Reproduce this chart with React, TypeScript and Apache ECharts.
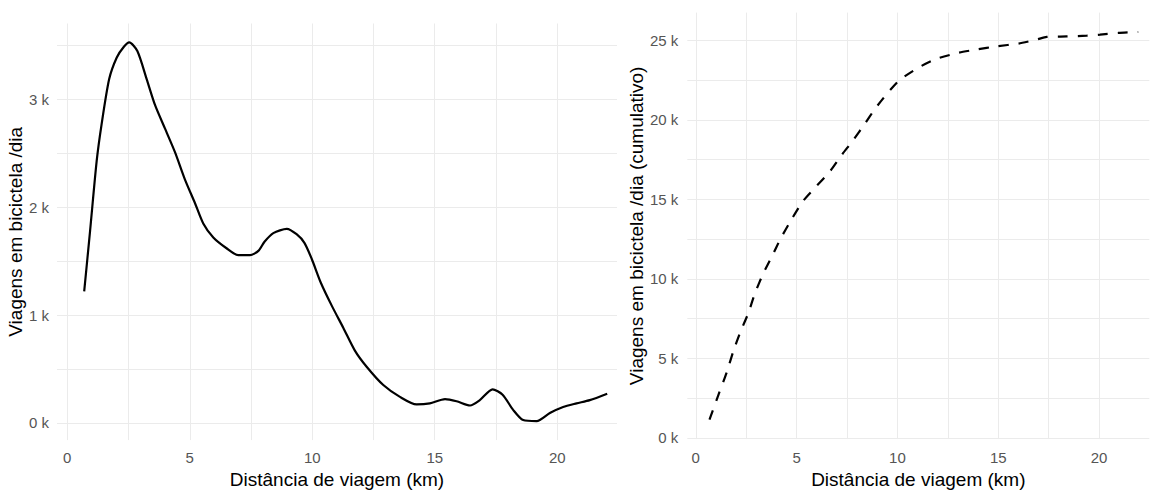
import React, { useEffect, useRef } from "react";
import * as echarts from "echarts";

// Left panel: trips per day by distance (km)
const densityX = [0.69, 0.93, 1.2, 1.4, 1.71, 2.02, 2.31, 2.53, 2.86, 3.24, 3.58, 3.99, 4.4, 4.8, 5.21, 5.55, 5.96, 6.5, 6.98, 7.46, 7.8, 8.05, 8.41, 8.96, 9.36, 9.68, 9.98, 10.35, 10.8, 11.27, 11.74, 12.22, 12.9, 13.58, 14.26, 14.8, 15.42, 15.89, 16.44, 16.84, 17.36, 17.77, 18.2, 18.61, 19.16, 19.7, 20.24, 20.79, 21.33, 22.04];
const densityY = [1220, 1780, 2430, 2770, 3190, 3390, 3490, 3530, 3450, 3190, 2950, 2730, 2510, 2260, 2040, 1850, 1720, 1620, 1556, 1556, 1595, 1680, 1760, 1800, 1750, 1670, 1520, 1300, 1085, 880, 670, 520, 350, 240, 170, 180, 220, 200, 160, 210, 310, 260, 120, 25, 15, 90, 146, 180, 210, 270];

// Right panel: cumulative trips per day
const cumulX = [0.68, 1.12, 1.54, 1.87, 2.2, 2.61, 2.94, 3.35, 3.77, 4.18, 4.76, 5.33, 5.99, 6.66, 7.24, 7.81, 8.39, 8.89, 9.47, 10.1, 11.04, 11.95, 13.02, 13.93, 14.92, 16.0, 16.9, 17.4, 18.39, 19.39, 20.05, 20.95, 21.94];
const cumulY = [1140, 2690, 4140, 5480, 6620, 7860, 9110, 10350, 11390, 12470, 13760, 14910, 15840, 16770, 17800, 18730, 19770, 20700, 21630, 22500, 23290, 23850, 24220, 24430, 24630, 24800, 25050, 25220, 25250, 25300, 25360, 25470, 25530];

const xGridValues = [0, 2.5, 5, 7.5, 10, 12.5, 15, 17.5, 20];
const xLabelValues = [0, 5, 10, 15, 20];
const leftYGridValues = [0, 500, 1000, 1500, 2000, 2500, 3000, 3500];
const leftYLabelValues = [0, 1000, 2000, 3000];
const rightYGridValues = [0, 2500, 5000, 7500, 10000, 12500, 15000, 17500, 20000, 22500, 25000];
const rightYLabelValues = [0, 5000, 10000, 15000, 20000, 25000];

const xTitle = "Distância de viagem (km)";
const leftYTitle = "Viagens em bicictela /dia";
const rightYTitle = "Viagens em bicictela /dia (cumulativo)";

const FONT = "Liberation Sans, Arial, sans-serif";
const gridColor = "#ebebeb";
const tickColor = "#555555";

function zip(xs: number[], ys: number[]) {
  return xs.map((x, i) => [x, ys[i]]);
}

export default function App() {
  const ref = useRef<HTMLDivElement>(null);
  useEffect(() => {
    if (!ref.current) return;
    const chart = echarts.init(ref.current, null, { renderer: "svg" });
    const xAxisBase = (gridIndex: number, min: number, max: number, labelMargin: number, nameGap: number) => ({
      type: "value",
      gridIndex,
      min,
      max,
      name: xTitle,
      nameLocation: "middle",
      nameGap,
      nameTextStyle: { fontSize: 19, color: "#000", fontFamily: FONT },
      axisLine: { show: false },
      axisTick: { show: false, customValues: xGridValues },
      axisLabel: {
        customValues: xLabelValues,
        fontSize: 15,
        color: tickColor,
        fontFamily: FONT,
        margin: labelMargin,
      },
      splitLine: { show: true, lineStyle: { color: gridColor, width: 1 } },
    });
    const yAxisBase = (
      gridIndex: number,
      min: number,
      max: number,
      gridVals: number[],
      labelVals: number[],
      name: string,
      nameGap: number,
      labelMargin: number
    ) => ({
      type: "value",
      gridIndex,
      min,
      max,
      name,
      nameLocation: "middle",
      nameGap,
      nameRotate: 90,
      nameTextStyle: { fontSize: 19, color: "#000", fontFamily: FONT },
      axisLine: { show: false },
      axisTick: { show: false, customValues: gridVals },
      axisLabel: {
        customValues: labelVals,
        fontSize: 15,
        color: tickColor,
        fontFamily: FONT,
        margin: labelMargin,
        formatter: (v: number) => v / 1000 + " k",
      },
      splitLine: { show: true, lineStyle: { color: gridColor, width: 1 } },
    });
    chart.setOption({
      animation: false,
      backgroundColor: "#ffffff",
      grid: [
        { left: 57, top: 23.5, width: 560, height: 424, containLabel: false },
        { left: 687.3, top: 12.6, width: 462, height: 432, containLabel: false },
      ],
      xAxis: [
        xAxisBase(0, -0.42, 22.44, 10, 27),
        xAxisBase(1, -0.42, 22.49, 11, 29),
      ],
      yAxis: [
        yAxisBase(0, -161, 3706, leftYGridValues, leftYLabelValues, leftYTitle, 29, 8),
        yAxisBase(1, -80, 26750, rightYGridValues, rightYLabelValues, rightYTitle, 40, 9),
      ],
      series: [
        {
          type: "line",
          xAxisIndex: 0,
          yAxisIndex: 0,
          data: zip(densityX, densityY),
          showSymbol: false,
          smooth: 0.25,
          lineStyle: { color: "#000", width: 2.2 },
        },
        {
          type: "line",
          xAxisIndex: 1,
          yAxisIndex: 1,
          data: zip(cumulX, cumulY),
          showSymbol: false,
          smooth: 0.2,
          lineStyle: { color: "#000", width: 2.2, type: [10, 10] },
        },
      ],
    });
    return () => chart.dispose();
  }, []);
  return (
    <div
      ref={ref}
      style={{ position: "absolute", left: 0, top: 0, width: 1150, height: 494, background: "#fff" }}
    />
  );
}
